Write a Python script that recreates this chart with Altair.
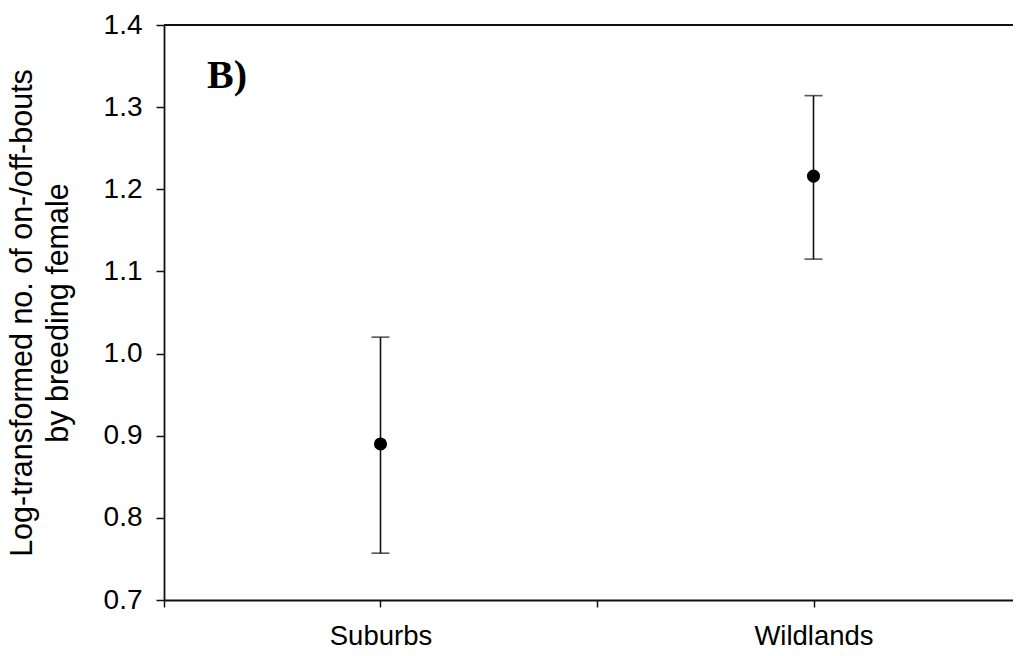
import altair as alt
import pandas as pd

categories = ["Suburbs", "Wildlands"]
means = [0.890, 1.216]
lower = [0.757, 1.115]
upper = [1.020, 1.314]
y_ticks = [0.7, 0.8, 0.9, 1.0, 1.1, 1.2, 1.3, 1.4]
panel_label = "B)"
y_title = ["Log-transformed no. of on-/off-bouts", "by breeding female"]

# category i is placed at position 2*i+1 on a 0..4 axis with boundary ticks
positions = [2 * i + 1 for i in range(len(categories))]
df = pd.DataFrame({"cat": categories, "pos": positions, "mean": means,
                   "lo": lower, "hi": upper})

W, H = 849, 575
x_max = W / 216.5
label_expr = " : ".join(
    [f"datum.value == {p} ? '{c}'" for p, c in zip(positions, categories)]
) + " : ''"

FONT = "Liberation Sans"
LINE = "#111111"

x_scale = alt.Scale(domain=[0, x_max], nice=False, zero=False)
y_scale = alt.Scale(domain=[0.7, 1.4], nice=False, zero=False)

x_axis = alt.Axis(values=[0, 1, 2, 3], labelExpr=label_expr, title=None,
                  grid=False, tickSize=7, labelPadding=15, labelFontSize=27.5,
                  labelFont=FONT, labelColor="black", domainColor=LINE,
                  tickColor=LINE, domainWidth=1.8, tickWidth=1.5,
                  labelFlush=False, labelOverlap=False)
y_axis = alt.Axis(values=y_ticks, format=".1f", title=y_title, grid=False,
                  tickSize=8, labelPadding=14, labelFontSize=28,
                  labelFont=FONT, labelColor="black", domainColor=LINE,
                  tickColor=LINE, domainWidth=1.8, tickWidth=1.5,
                  titleFont=FONT, titleFontSize=30.5, titleFontWeight="normal",
                  titleColor="black", titlePadding=30, titleLineHeight=36,
                  labelFlush=False, labelOverlap=False)

base = alt.Chart(df)

stems = base.mark_rule(color=LINE, strokeWidth=1.6).encode(
    x=alt.X("pos:Q", scale=x_scale, axis=x_axis),
    y=alt.Y("lo:Q", scale=y_scale, axis=y_axis),
    y2="hi:Q",
)
cap_lo = base.mark_tick(color=LINE, orient="horizontal", size=18,
                        thickness=1.6).encode(
    x=alt.X("pos:Q", scale=x_scale), y=alt.Y("lo:Q", scale=y_scale))
cap_hi = base.mark_tick(color=LINE, orient="horizontal", size=18,
                        thickness=1.6).encode(
    x=alt.X("pos:Q", scale=x_scale), y=alt.Y("hi:Q", scale=y_scale))
dots = base.mark_circle(color="black", size=170, opacity=1).encode(
    x=alt.X("pos:Q", scale=x_scale), y=alt.Y("mean:Q", scale=y_scale))

top_frame = alt.Chart(pd.DataFrame({"k": [0]})).mark_rule(
    color=LINE, strokeWidth=1.8).encode(
    x=alt.value(0), x2=alt.value(W), y=alt.value(0))

label = alt.Chart(pd.DataFrame({"t": [panel_label]})).mark_text(
    font="Liberation Serif", fontWeight="bold", fontSize=40, align="left",
    baseline="alphabetic", color="black").encode(
    text="t:N", x=alt.value(43), y=alt.value(63))

chart = alt.layer(top_frame, stems, cap_lo, cap_hi, dots, label).properties(
    width=W, height=H,
    autosize=alt.AutoSizeParams(type="none"),
    padding={"left": 156, "top": 17, "right": 0, "bottom": 48},
).configure_view(stroke=None).configure(background="white")

chart.save("out.html", embed_options={"renderer": "svg", "actions": False})
